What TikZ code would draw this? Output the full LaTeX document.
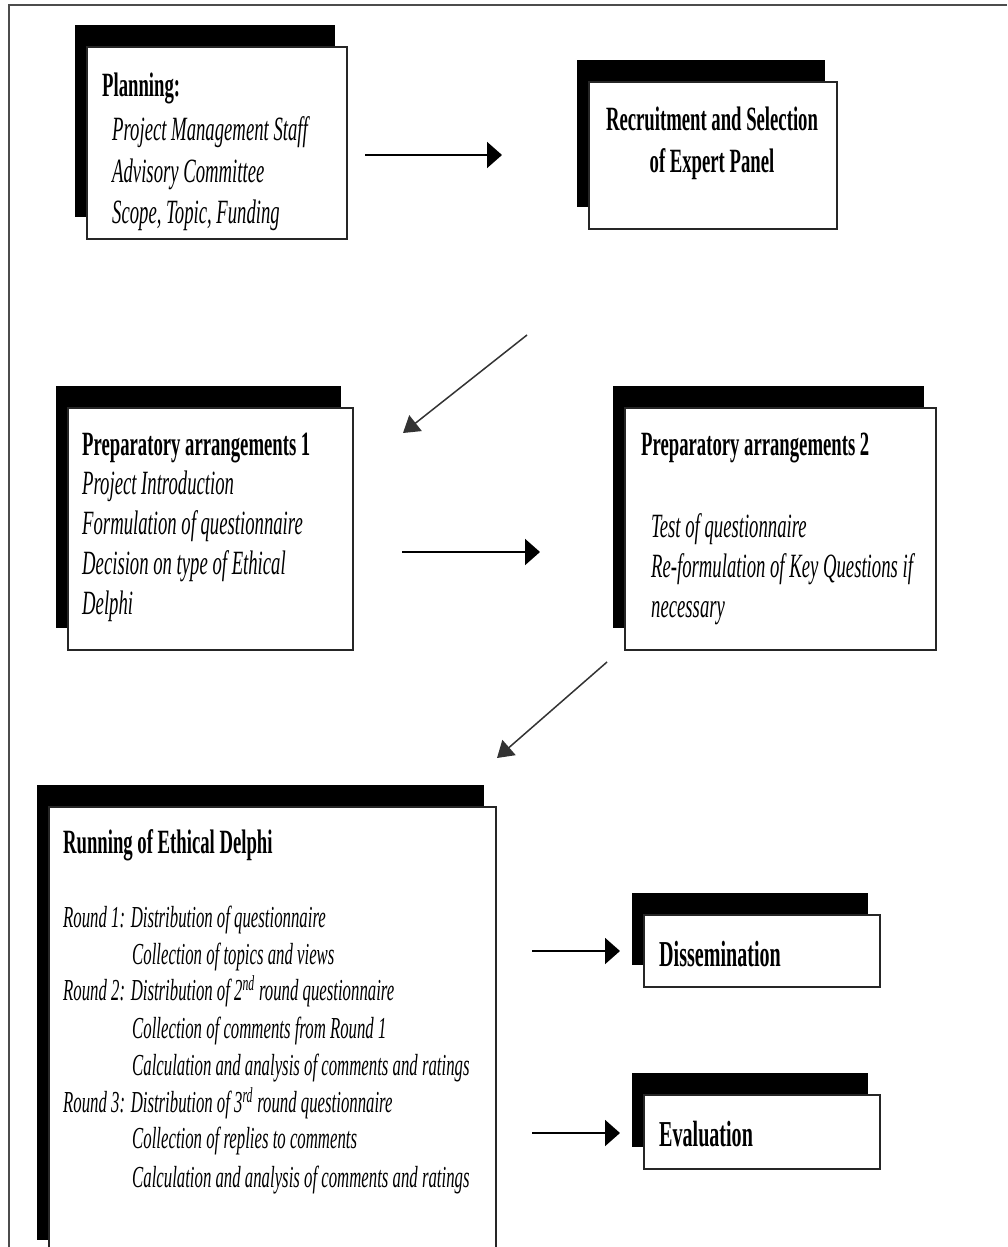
\documentclass[tikz,border=0pt]{standalone}
\usepackage{fontspec}
\setmainfont{Liberation Serif}[FakeStretch=0.55]
\usetikzlibrary{shadows,arrows.meta}
\begin{document}
\begin{tikzpicture}[x=1pt,y=-1pt,
  box/.style={draw=black!85, line width=1.3pt, fill=white, inner sep=0pt,
    general shadow={fill=black, shadow xshift=-12pt, shadow yshift=22pt}},
  hd/.style={anchor=base west, inner sep=0pt, font=\fontsize{34}{40}\selectfont\bfseries},
  hdc/.style={anchor=base, inner sep=0pt, font=\fontsize{34}{40}\selectfont\bfseries},
  itx/.style={anchor=base west, inner sep=0pt, font=\fontsize{34}{40}\selectfont\itshape},
  rix/.style={anchor=base west, inner sep=0pt, font=\fontsize{30.5}{37}\selectfont\itshape},
  bigt/.style={anchor=base west, inner sep=0pt, font=\fontsize{36.5}{44}\selectfont\bfseries},
  arr/.style={line width=2pt, -{Triangle[length=15pt,width=26pt]}},
  darr/.style={line width=1.5pt, draw=black!80, -{Triangle[length=16pt,width=20pt]}},
  frame/.style={draw=black!70, line width=2pt}
]
\useasboundingbox (0,0) rectangle (1007,1247);
\fill[white] (0,0) rectangle (1007,1247);
% outer frame
\coordinate (fr1) at (1007,5);
\coordinate (fr2) at (9,5);
\coordinate (fr3) at (9,1250);
\draw[frame] (fr1) -- (fr2) -- (fr3);

% boxes
\node[box, minimum width=260pt, minimum height=192pt] (plan) at (217,143) {};
\node[box, minimum width=248pt, minimum height=147pt] (recr) at (713,155.5) {};
\node[box, minimum width=285pt, minimum height=242pt] (prepA) at (210.5,529) {};
\node[box, minimum width=311pt, minimum height=242pt] (prepB) at (780.5,529) {};
\node[box, minimum width=447pt, minimum height=455pt] (run) at (272.5,1034.5) {};
\node[box, minimum width=236pt, minimum height=72pt] (diss) at (762,951) {};
\node[box, minimum width=236pt, minimum height=74pt] (eval) at (762,1132) {};

% planning text
\node[hd] (planT) at (102,96) {Planning:};
\node[itx] (plan1) at (112,140) {Project Management Staff};
\node[itx] (plan2) at (112,182) {Advisory Committee};
\node[itx] (plan3) at (112,223) {Scope, Topic, Funding};

% recruitment text
\node[hdc] (recr1) at (712,130) {Recruitment and Selection};
\node[hdc] (recr2) at (712,172) {of Expert Panel};

% preparatory 1
\node[hd] (pA0) at (82,455) {Preparatory arrangements 1};
\node[itx] (pA1) at (82,494) {Project Introduction};
\node[itx] (pA2) at (82,534) {Formulation of questionnaire};
\node[itx] (pA3) at (82,574) {Decision on type of Ethical};
\node[itx] (pA4) at (82,614) {Delphi};

% preparatory 2
\node[hd] (pB0) at (641,455) {Preparatory arrangements 2};
\node[itx] (pB1) at (651,537) {Test of questionnaire};
\node[itx] (pB2) at (651,577) {Re-formulation of Key Questions if};
\node[itx] (pB3) at (651,617) {necessary};

% running
\node[hd] (r0) at (63,853) {Running of Ethical Delphi};
\node[rix] (r1) at (63,927) {Round 1: Distribution of questionnaire};
\node[rix] (r2) at (132,964) {Collection of topics and views};
\node[rix] (r3) at (63,1000) {Round 2: Distribution of 2\textsuperscript{nd} round questionnaire};
\node[rix] (r4) at (132,1038) {Collection of comments from Round 1};
\node[rix] (r5) at (132,1075) {Calculation and analysis of comments and ratings};
\node[rix] (r6) at (63,1112) {Round 3: Distribution of 3\textsuperscript{rd} round questionnaire};
\node[rix] (r7) at (132,1148) {Collection of replies to comments};
\node[rix] (r8) at (132,1187) {Calculation and analysis of comments and ratings};

% dissemination / evaluation
\node[bigt] (dissT) at (659,966) {Dissemination};
\node[bigt] (evalT) at (659,1146) {Evaluation};

% arrows
\coordinate (a1s) at (365,155);  \coordinate (a1e) at (502,155);
\coordinate (a2s) at (527,335);  \coordinate (a2e) at (403,433);
\coordinate (a3s) at (402,552);  \coordinate (a3e) at (540,552);
\coordinate (a4s) at (607,662);  \coordinate (a4e) at (497,758);
\coordinate (a5s) at (532,951);  \coordinate (a5e) at (620,951);
\coordinate (a6s) at (532,1133); \coordinate (a6e) at (620,1133);
\draw[arr] (a1s) -- (a1e);
\draw[darr] (a2s) -- (a2e);
\draw[arr] (a3s) -- (a3e);
\draw[darr] (a4s) -- (a4e);
\draw[arr] (a5s) -- (a5e);
\draw[arr] (a6s) -- (a6e);
\end{tikzpicture}
\end{document}
